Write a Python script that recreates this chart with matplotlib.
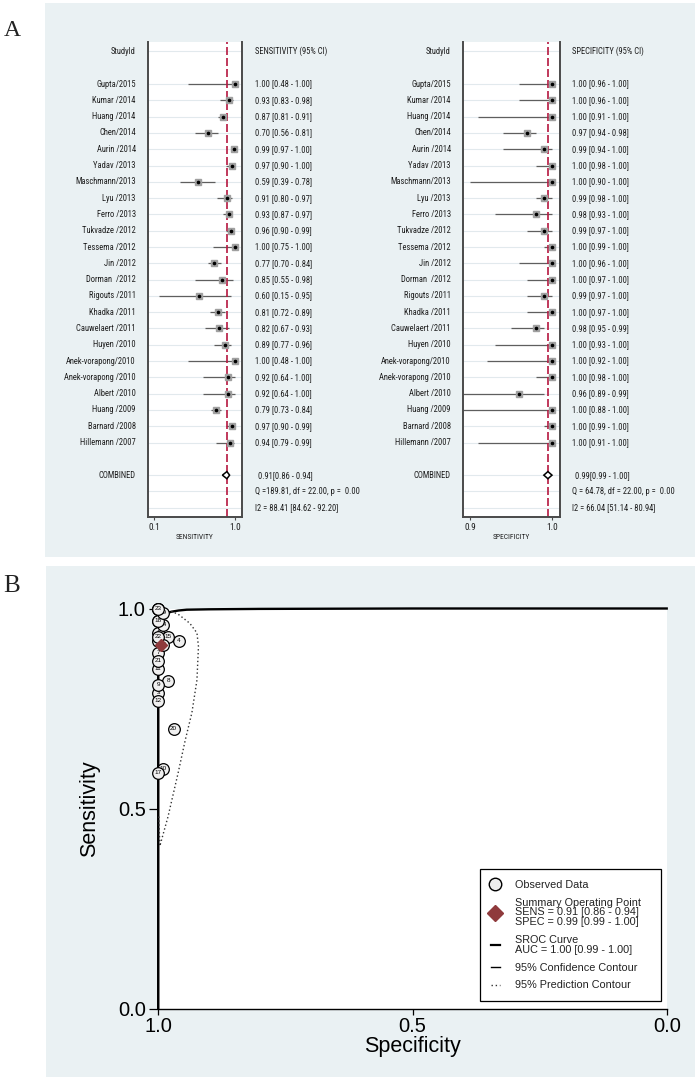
import matplotlib
matplotlib.use('Agg')
import matplotlib.pyplot as plt
from matplotlib.patches import Rectangle
from matplotlib.lines import Line2D
import matplotlib.transforms as mtransforms
from matplotlib import font_manager as fm

# ---------------- data ----------------
studies = ["Gupta/2015", "Kumar /2014", "Huang /2014", "Chen/2014", "Aurin /2014",
           "Yadav /2013", "Maschmann/2013", "Lyu /2013", "Ferro /2013", "Tukvadze /2012",
           "Tessema /2012", "Jin /2012", "Dorman  /2012", "Rigouts /2011", "Khadka /2011",
           "Cauwelaert /2011", "Huyen /2010", "Anek-vorapong/2010", "Anek-vorapong /2010",
           "Albert /2010", "Huang /2009", "Barnard /2008", "Hillemann /2007"]

sens_est = [1.00, 0.93, 0.87, 0.70, 0.99, 0.97, 0.59, 0.91, 0.93, 0.96, 1.00, 0.77,
            0.85, 0.60, 0.81, 0.82, 0.89, 1.00, 0.92, 0.92, 0.79, 0.97, 0.94]
sens_lo = [0.48, 0.83, 0.81, 0.56, 0.97, 0.90, 0.39, 0.80, 0.87, 0.90, 0.75, 0.70,
           0.55, 0.15, 0.72, 0.67, 0.77, 0.48, 0.64, 0.64, 0.73, 0.90, 0.79]
sens_hi = [1.00, 0.98, 0.91, 0.81, 1.00, 1.00, 0.78, 0.97, 0.97, 0.99, 1.00, 0.84,
           0.98, 0.95, 0.89, 0.93, 0.96, 1.00, 1.00, 1.00, 0.84, 0.99, 0.99]

spec_est = [1.00, 1.00, 1.00, 0.97, 0.99, 1.00, 1.00, 0.99, 0.98, 0.99, 1.00, 1.00,
            1.00, 0.99, 1.00, 0.98, 1.00, 1.00, 1.00, 0.96, 1.00, 1.00, 1.00]
spec_lo = [0.96, 0.96, 0.91, 0.94, 0.94, 0.98, 0.90, 0.98, 0.93, 0.97, 0.99, 0.96,
           0.97, 0.97, 0.97, 0.95, 0.93, 0.92, 0.98, 0.89, 0.88, 0.99, 0.91]
spec_hi = [1.00, 1.00, 1.00, 0.98, 1.00, 1.00, 1.00, 1.00, 1.00, 1.00, 1.00, 1.00,
           1.00, 1.00, 1.00, 0.99, 1.00, 1.00, 1.00, 0.99, 1.00, 1.00, 1.00]

sens_pooled = [0.91, 0.86, 0.94]
spec_pooled = [0.995, 0.99, 1.00]
sens_q = "Q =189.81, df = 22.00, p =  0.00"
sens_i2 = "I2 = 88.41 [84.62 - 92.20]"
spec_q = "Q = 64.78, df = 22.00, p =  0.00"
spec_i2 = "I2 = 66.04 [51.14 - 80.94]"

# SROC curve
sroc_spec = [1.000, 1.000, 0.998, 0.994, 0.990, 0.982, 0.974, 0.960, 0.944, 0.900, 0.800, 0.500, 0.000]
sroc_sens = [0.000, 0.955, 0.972, 0.980, 0.985, 0.989, 0.992, 0.995, 0.997, 0.998, 0.999, 1.000, 1.000]
# 95% confidence contour around summary point
conf_spec = [1.000, 0.993, 0.990, 0.990, 0.993, 0.998, 1.000]
conf_sens = [0.940, 0.936, 0.915, 0.885, 0.862, 0.862, 0.880]
# 95% prediction contour
pred_spec = [0.990, 0.972, 0.959, 0.938, 0.924, 0.921, 0.924, 0.934, 0.947, 0.961, 0.981, 0.997, 0.999]
pred_sens = [0.993, 0.992, 0.984, 0.963, 0.939, 0.905, 0.821, 0.739, 0.671, 0.589, 0.479, 0.406, 0.480]

legend_labels = ["Observed Data",
                 "Summary Operating Point\nSENS = 0.91 [0.86 - 0.94]\nSPEC = 0.99 [0.99 - 1.00]",
                 "SROC Curve\nAUC = 1.00 [0.99 - 1.00]",
                 "95% Confidence Contour",
                 "95% Prediction Contour"]

# ---------------- fonts ----------------
_avail = {f.name for f in fm.fontManager.ttflist}
FOREST_FONT, FS = 'Liberation Sans', 5.6
for _nm, _sz in [('Liberation Sans Narrow', 6.45), ('Roboto Condensed', 6.15),
                 ('Open Sans Condensed', 6.15), ('Arial Narrow', 6.45)]:
    if _nm in _avail:
        FOREST_FONT, FS = _nm, _sz
        break
NARROW = [FOREST_FONT, 'DejaVu Sans']
SANS = ['Liberation Sans', 'DejaVu Sans']
SERIF = ['Liberation Serif', 'DejaVu Serif']
TXT = '#1e1e1e'

# ---------------- layout helpers ----------------
W, H = 700, 1081
fig = plt.figure(figsize=(W / 100, H / 100), dpi=100)
fig.patch.set_facecolor('white')


def fx(x):
    return x / W


def fy(y):
    return 1 - y / H


BG = '#eaf1f3'
fig.patches.append(Rectangle((fx(45), fy(557)), 650 / W, 554 / H, transform=fig.transFigure,
                             facecolor=BG, edgecolor='none', zorder=-10))
fig.patches.append(Rectangle((fx(46), fy(1077)), 649 / W, 511 / H, transform=fig.transFigure,
                             facecolor=BG, edgecolor='none', zorder=-10))

fig.text(fx(4), fy(36), 'A', family=SERIF, fontsize=17, ha='left', va='baseline', color='#222')
fig.text(fx(3), fy(592), 'B', family=SERIF, fontsize=18, ha='left', va='baseline', color='#222')


def forest(left_px, right_px, xlim, ticks, ticklabels, xlabel, est, lo, hi, pooled,
           header, qtxt, i2txt, name_x, text_x, comb_x):
    top_px, bot_px = 41.7, 516.7
    ax = fig.add_axes([fx(left_px), fy(bot_px), (right_px - left_px) / W, (bot_px - top_px) / H])
    n = len(est)
    rows = list(range(2, 2 + n))
    comb_row, q_row, i2_row = n + 3, n + 4, n + 5
    ax.set_xlim(*xlim)
    ax.set_ylim(i2_row + 0.55, -0.6)
    ax.set_facecolor('white')
    for r in [0] + rows + [comb_row, q_row, i2_row]:
        ax.axhline(r, color='#e2e9ed', lw=0.8, zorder=0)
    ax.hlines(rows, lo, hi, color='#5e5e5e', lw=0.9, zorder=2)
    ax.axvline(pooled[0], color='#b5173f', lw=1.2, ls=(0, (4.8, 1.8)), zorder=2.5)
    ax.plot(est, rows, 's', ms=4.4, mfc='#a0a0a0', mec='#a0a0a0', zorder=3)
    ax.plot(est, rows, 'o', ms=1.6, color='k', zorder=4)
    h = 0.22
    ax.fill([pooled[1], pooled[0], pooled[2], pooled[0]],
            [comb_row, comb_row - h, comb_row, comb_row + h],
            facecolor='white', edgecolor='k', lw=1.1, zorder=5)
    ax.spines['top'].set_visible(False)
    for s in ['left', 'right', 'bottom']:
        ax.spines[s].set_color('#4a4a4a')
        ax.spines[s].set_linewidth(1.4)
    ax.set_yticks([])
    ax.set_xticks(ticks, ticklabels)
    ax.tick_params(axis='x', length=2.5, width=0.8, pad=2, labelsize=FS * 1.08,
                   colors='#4a4a4a', labelcolor=TXT)
    for t in ax.get_xticklabels():
        t.set_family(NARROW)
    ax.set_xlabel(xlabel, fontsize=FS * 0.88, labelpad=1.2, family=NARROW, color=TXT)

    trans = mtransforms.blended_transform_factory(fig.transFigure, ax.transData)
    kw = dict(transform=trans, va='center', fontsize=FS, family=NARROW, color=TXT)
    ax.text(fx(name_x), 0, 'StudyId', ha='right', **kw)
    ax.text(fx(text_x), 0, header, ha='left', **kw)
    for r, name, e, l, u in zip(rows, studies, est, lo, hi):
        ax.text(fx(name_x), r, name, ha='right', **kw)
        ax.text(fx(text_x), r, f"{e:.2f} [{l:.2f} - {u:.2f}]", ha='left', **kw)
    ax.text(fx(name_x), comb_row, 'COMBINED', ha='right', **kw)
    ax.text(fx(comb_x), comb_row, f"{pooled[0]:.2f}[{pooled[1]:.2f} - {pooled[2]:.2f}]", ha='left', **kw)
    ax.text(fx(text_x), q_row, qtxt, ha='left', **kw)
    ax.text(fx(text_x), i2_row, i2txt, ha='left', **kw)
    return ax


forest(148, 242, (0.1 - 6 / 90, 1.0 + 7 / 90), [0.1, 1.0], ['0.1', '1.0'], 'SENSITIVITY',
       sens_est, sens_lo, sens_hi, sens_pooled, 'SENSITIVITY (95% CI)', sens_q, sens_i2,
       135.7, 255, 257.7)
forest(463, 560, (0.9 - 7.3 / 817, 1.0 + 8 / 817), [0.9, 1.0], ['0.9', '1.0'], 'SPECIFICITY',
       spec_est, spec_lo, spec_hi, spec_pooled, 'SPECIFICITY (95% CI)', spec_q, spec_i2,
       450.7, 572.3, 575)

# ---------------- panel B : SROC ----------------
axb = fig.add_axes([fx(158.3), fy(1008.5), 508.4 / W, 400 / H])
axb.set_xlim(1.0, 0.0)
axb.set_ylim(0.0, 1.0)
axb.set_facecolor('white')
for s in ['top', 'right']:
    axb.spines[s].set_visible(False)
axb.spines['left'].set_linewidth(1.3)
axb.spines['bottom'].set_linewidth(1.0)
axb.set_xticks([1.0, 0.5, 0.0], ['1.0', '0.5', '0.0'])
axb.set_yticks([0.0, 0.5, 1.0], ['0.0', '0.5', '1.0'])
axb.tick_params(axis='y', length=6.7, width=0.9, pad=2.4, labelsize=14.5)
axb.tick_params(axis='x', length=4, width=0.9, pad=2, labelsize=14.5)
for t in axb.get_xticklabels() + axb.get_yticklabels():
    t.set_family(SANS)
axb.set_xlabel('Specificity', fontsize=15.5, family=SANS)
axb.set_ylabel('Sensitivity', fontsize=15.5, family=SANS)
axb.xaxis.set_label_coords(0.5, (1008.5 - 1046.6) / 400)
axb.xaxis.label.set_va('center')
axb.yaxis.set_label_coords((89.7 - 158.3) / 508.4, 0.5)
axb.yaxis.label.set_va('center')
axb.yaxis.label.set_ha('center')

axb.plot(sroc_spec, sroc_sens, color='k', lw=1.7, clip_on=False, zorder=4)
axb.plot(conf_spec, conf_sens, color='k', lw=0.7, clip_on=False, zorder=4)
axb.plot(pred_spec, pred_sens, color='#333333', lw=1.0, ls=(0, (1, 1.8)), clip_on=False, zorder=4)

obs_spec = spec_est[::-1]
obs_sens = sens_est[::-1]
for i, (sp, se) in enumerate(zip(obs_spec, obs_sens)):
    axb.plot(sp, se, 'o', ms=8.4, mfc='#f0f0f0', mec='k', mew=0.9, zorder=10 + 2 * i, clip_on=False)
    axb.text(sp, se, str(i + 1), fontsize=4.6, ha='center', va='center', family=SANS,
             zorder=11 + 2 * i)
axb.plot(spec_pooled[0], sens_pooled[0], 'D', ms=6.5, color='#8f3a3c', zorder=80, clip_on=False)

handles = [Line2D([], [], ls='', marker='o', ms=9, mfc='#ececec', mec='k', mew=1.0),
           Line2D([], [], ls='', marker='D', ms=8, color='#8f3a3c'),
           Line2D([], [], color='k', lw=1.6),
           Line2D([], [], color='k', lw=1.0),
           Line2D([], [], color='#333333', lw=1.0, ls=(0, (1, 2)))]
leg = axb.legend(handles, legend_labels, loc='upper left',
                 bbox_to_anchor=(fx(480), fy(1004), 181 / W, 135 / H),
                 bbox_transform=fig.transFigure, mode='expand', borderaxespad=0,
                 frameon=True, fancybox=False, edgecolor='k', framealpha=1,
                 prop={'family': SANS, 'size': 7.8},
                 handlelength=0.8, handletextpad=1.4, borderpad=1.0, labelspacing=0.72)
leg.get_frame().set_linewidth(0.9)
leg.set_zorder(100)
for t in leg.get_texts():
    t.set_linespacing(0.97)
    t.set_color('#222')

fig.savefig('out.png', dpi=100, facecolor='white')
